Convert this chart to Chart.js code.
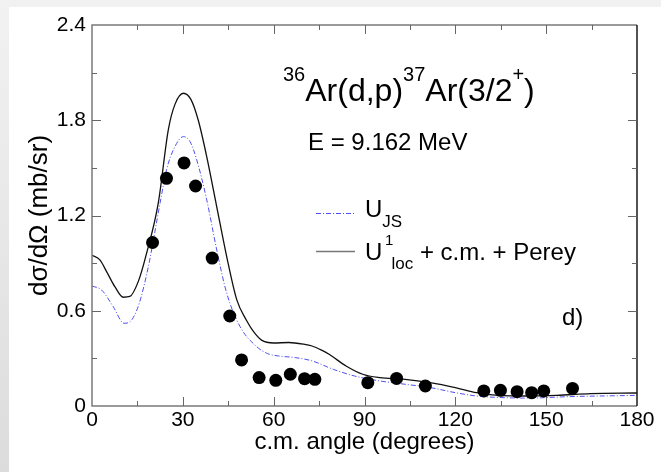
<!DOCTYPE html>
<html>
<head>
<meta charset="utf-8">
<script src="https://cdn.jsdelivr.net/npm/chart.js@4"></script>
<style>
  html, body { margin: 0; padding: 0; background: #f0f0f0; }
  #wrap { width: 661px; height: 472px; }
</style>
</head>
<body>
<div id="wrap"><canvas id="xsec" width="661" height="472"></canvas></div>
<script>
// measured cross section (c.m. angle in degrees, mb/sr)
var ExpAngle = [20.0, 24.6, 30.4, 34.2, 39.7, 45.5, 49.4, 55.2, 60.7, 65.5, 70.2, 73.6,
                91.1, 100.6, 110.1, 129.4, 134.9, 140.4, 145.2, 149.2, 158.7];
var ExpSigma = [1.03, 1.434, 1.531, 1.386, 0.932, 0.567, 0.29, 0.179, 0.162, 0.20, 0.172, 0.168,
                0.147, 0.174, 0.126, 0.095, 0.099, 0.090, 0.084, 0.095, 0.111];

// U_JS calculation
var JsAngle = [0, 3.2, 7, 10.6, 13.1, 15.6, 18.6, 22.5, 24.6, 27.4, 30.2, 32.4, 34.6, 37.9,
               41.2, 44.5, 48.9, 54.4, 58, 61.6, 67.1, 72.7, 79.7, 86.7, 95, 103.4, 111.7,
               120, 127, 135.4, 143.8, 157.7, 180];
var JsSigma = [0.756, 0.73, 0.626, 0.521, 0.542, 0.647, 0.877, 1.28, 1.487, 1.634, 1.697, 1.665,
               1.55, 1.298, 0.983, 0.71, 0.50, 0.374, 0.33, 0.315, 0.305, 0.284, 0.231, 0.189,
               0.158, 0.137, 0.116, 0.084, 0.063, 0.053, 0.05, 0.059, 0.067];

// U1loc + c.m. + Perey calculation
var LocAngle = [0, 2.6, 5, 7.6, 10.3, 12.5, 15.3, 18, 21.9, 25.2, 27.4, 30.2, 32.7, 35.1, 37.9,
                41.2, 44.5, 47.8, 51, 53.3, 56, 60, 65, 69.8, 72.7, 76, 78.3, 83.9, 89.4, 95,
                103.4, 111.7, 120, 127, 134, 143.8, 153.5, 164.7, 180];
var LocSigma = [0.95, 0.92, 0.84, 0.75, 0.685, 0.69, 0.785, 0.96, 1.28, 1.74, 1.90, 1.97, 1.93,
                1.80, 1.57, 1.255, 0.94, 0.67, 0.54, 0.47, 0.415, 0.397, 0.40, 0.39, 0.378, 0.35,
                0.326, 0.252, 0.20, 0.179, 0.168, 0.147, 0.116, 0.084, 0.067, 0.063, 0.067,
                0.078, 0.082];

var XTicks = [0, 30, 60, 90, 120, 150, 180];
var XMinor = [15, 45, 75, 105, 135, 165];
var YTicks = [0, 0.6, 1.2, 1.8, 2.4];
var YMinor = [0.3, 0.9, 1.5, 2.1];

var FONT = '"Liberation Sans", Arial, sans-serif';
Chart.defaults.font.family = FONT;
Chart.defaults.color = '#000';

function pairs(xs, ys) {
  return xs.map(function (x, i) { return {x: x, y: ys[i]}; });
}

// draws a row of text pieces, with sub/superscripts shifted by dy
function runs(ctx, x, y, parts) {
  parts.forEach(function (p) {
    ctx.font = p.size + 'px ' + FONT;
    var px = p.x !== undefined ? p.x : x;
    ctx.fillText(p.text, px, y + (p.dy || 0));
    x = px + ctx.measureText(p.text).width;
  });
  return x;
}

const pagePlugin = {
  id: 'page',
  beforeDraw(chart) {
    const ctx = chart.ctx;
    ctx.save();
    ctx.fillStyle = '#f1f1f1';
    ctx.fillRect(0, 0, chart.width, chart.height);
    var g = ctx.createLinearGradient(0, 0, 0, chart.height);
    g.addColorStop(0, '#f2f2f2');
    g.addColorStop(1, '#dcdcdc');
    ctx.fillStyle = g;
    ctx.fillRect(0, 0, 9, chart.height);
    ctx.fillStyle = '#fff';
    ctx.fillRect(9, 7, chart.width - 9, chart.height - 7);
    ctx.restore();
  }
};

const framePlugin = {
  id: 'frame',
  afterDraw(chart) {
    const ctx = chart.ctx;
    const a = chart.chartArea;
    const xs = chart.scales.x, ys = chart.scales.y;
    ctx.save();
    ctx.lineWidth = 1.5;
    ctx.strokeStyle = '#7a7a7a';
    ctx.beginPath();
    ctx.moveTo(a.right, a.top); ctx.lineTo(a.left, a.top);
    ctx.lineTo(a.left, a.bottom); ctx.lineTo(a.right, a.bottom);
    ctx.stroke();
    ctx.strokeStyle = '#1a1a1a';
    ctx.beginPath();
    ctx.moveTo(a.right, a.top); ctx.lineTo(a.right, a.bottom);
    ctx.stroke();

    // inward ticks on all four sides
    ctx.lineWidth = 1;
    ctx.strokeStyle = '#666';
    ctx.beginPath();
    function xt(v, len) {
      var p = Math.round(xs.getPixelForValue(v)) + 0.5;
      ctx.moveTo(p, a.bottom); ctx.lineTo(p, a.bottom - len);
      ctx.moveTo(p, a.top); ctx.lineTo(p, a.top + len);
    }
    function yt(v, len) {
      var p = Math.round(ys.getPixelForValue(v)) + 0.5;
      ctx.moveTo(a.left, p); ctx.lineTo(a.left + len, p);
      ctx.moveTo(a.right, p); ctx.lineTo(a.right - len, p);
    }
    XTicks.slice(1, -1).forEach(function (v) { xt(v, 9); });
    XMinor.forEach(function (v) { xt(v, 5); });
    YTicks.slice(1, -1).forEach(function (v) { yt(v, 9); });
    YMinor.forEach(function (v) { yt(v, 5); });
    ctx.stroke();
    ctx.restore();
  }
};

const notePlugin = {
  id: 'notes',
  afterDraw(chart) {
    const ctx = chart.ctx;
    ctx.save();
    ctx.fillStyle = '#000';
    ctx.textBaseline = 'alphabetic';
    ctx.textAlign = 'left';

    runs(ctx, 283, 101, [
      {text: '36', size: 20, dy: -20},
      {text: 'Ar(d,p)', size: 32},
      {text: '37', size: 20, dy: -20},
      {text: 'Ar(3/2', size: 32},
      {text: '+', size: 20, dy: -20},
      {text: ')', size: 32}
    ]);
    runs(ctx, 308, 150, [{text: 'E = 9.162 MeV', size: 24}]);

    // legend
    ctx.lineWidth = 1.2;
    ctx.strokeStyle = '#5050f0';
    ctx.setLineDash([5, 2, 1, 2]);
    ctx.beginPath(); ctx.moveTo(316, 213.5); ctx.lineTo(355, 213.5); ctx.stroke();
    ctx.setLineDash([]);
    ctx.strokeStyle = '#777';
    ctx.lineWidth = 1.5;
    ctx.beginPath(); ctx.moveTo(316, 251.5); ctx.lineTo(355, 251.5); ctx.stroke();

    runs(ctx, 365, 217, [
      {text: 'U', size: 24},
      {text: 'JS', size: 17, dy: 10}
    ]);
    runs(ctx, 365, 260, [{text: 'U', size: 24}]);
    runs(ctx, 385, 245, [{text: '1', size: 15}]);
    var e = runs(ctx, 391.5, 269, [{text: 'loc', size: 17}]);
    runs(ctx, e, 260, [{text: ' + c.m. + Perey', size: 24}]);

    runs(ctx, 562, 325, [{text: 'd)', size: 24}]);
    ctx.restore();
  }
};

var ctx = document.getElementById('xsec');
const config = {
  type: 'line',
  data: {
    datasets: [
      {
        label: 'data',
        data: pairs(ExpAngle, ExpSigma),
        showLine: false,
        pointRadius: 6.5,
        pointHoverRadius: 6.5,
        pointBackgroundColor: '#000',
        pointBorderColor: '#000',
        pointBorderWidth: 0
      },
      {
        label: 'U_JS',
        data: pairs(JsAngle, JsSigma),
        borderColor: '#5050f0',
        borderWidth: 1,
        borderDash: [5, 2, 1, 2],
        pointRadius: 0,
        fill: false,
        cubicInterpolationMode: 'monotone'
      },
      {
        label: 'U1loc + c.m. + Perey',
        data: pairs(LocAngle, LocSigma),
        borderColor: '#111',
        borderWidth: 1.3,
        pointRadius: 0,
        fill: false,
        cubicInterpolationMode: 'monotone'
      }
    ]
  },
  options: {
    responsive: false,
    animation: false,
    events: [],
    layout: { padding: { left: 0, top: 25, right: 24, bottom: 0 } },
    plugins: {
      legend: { display: false },
      tooltip: { enabled: false }
    },
    scales: {
      x: {
        type: 'linear',
        min: 0,
        max: 180,
        afterBuildTicks: function (s) { s.ticks = XTicks.map(function (v) { return {value: v}; }); },
        afterFit: function (s) { s.height = 66; },
        grid: { display: false, drawTicks: false },
        border: { display: false },
        ticks: { font: { size: 21 }, color: '#000', padding: 2, maxRotation: 0 },
        title: {
          display: true,
          text: 'c.m. angle (degrees)',
          font: { size: 24 },
          color: '#000',
          padding: { top: 0, bottom: 15 }
        }
      },
      y: {
        type: 'linear',
        min: 0,
        max: 2.4,
        afterBuildTicks: function (s) { s.ticks = YTicks.map(function (v) { return {value: v}; }); },
        afterFit: function (s) { s.width = 92; },
        grid: { display: false, drawTicks: false },
        border: { display: false },
        ticks: {
          font: { size: 21 },
          color: '#000',
          padding: 6,
          callback: function (v) { return v === 0 ? '0' : v.toFixed(1); }
        },
        title: {
          display: true,
          text: 'dσ/dΩ (mb/sr)',
          font: { size: 26 },
          color: '#000',
          padding: { top: 24, bottom: 0 }
        }
      }
    }
  },
  plugins: [pagePlugin, framePlugin, notePlugin]
};

var chart = new Chart(ctx, config);
</script>
</body>
</html>
